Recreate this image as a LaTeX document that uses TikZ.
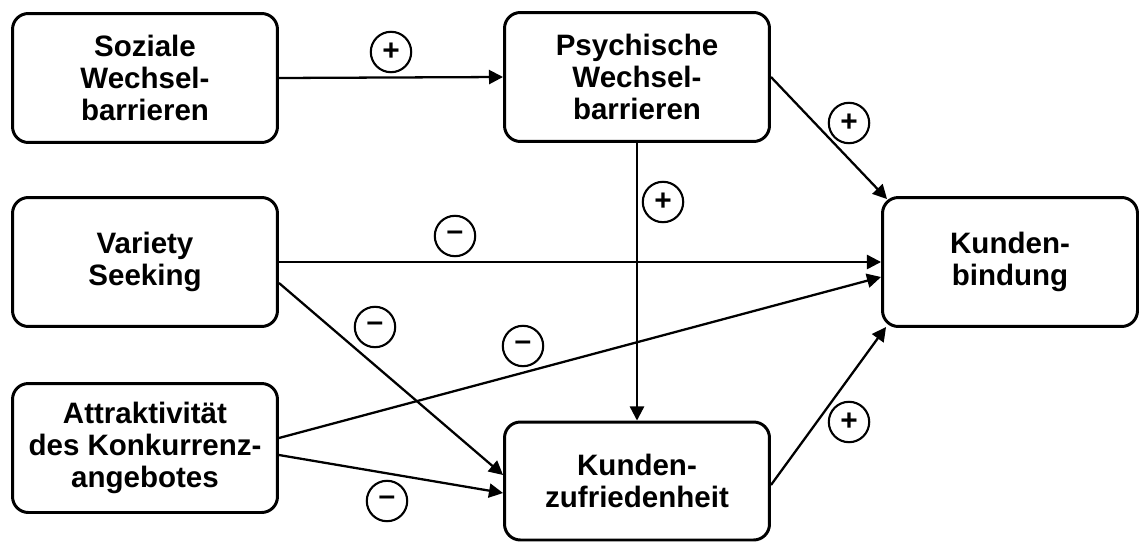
\documentclass[tikz,border=0pt]{standalone}
\usepackage{fontspec}
\setmainfont{Liberation Sans}
\usepackage{tikz}
\usetikzlibrary{arrows.meta,calc,positioning}

\begin{document}
\begin{tikzpicture}[x=0.02cm,y=-0.02cm,
    box/.style={draw,line width=1.7pt,rounded corners=9pt,align=center,
      minimum width=5.3cm,minimum height=2.58cm,
      font=\fontsize{16.8}{18.4}\selectfont\bfseries},
    sign/.style={draw,circle,line width=1.2pt,inner sep=0pt,minimum size=23pt,
      font=\fontsize{17}{17}\selectfont\bfseries},
    pfeil/.style={line width=1.3pt,-{Triangle[length=8pt,width=8pt]}}]
    \useasboundingbox (0,0) rectangle (1145,544);
    \node[box] (soz) at (145,78) {Soziale\\Wechsel-\\barrieren};
    \node[box] (psy) at (637,77) {Psychische\\Wechsel-\\barrieren};
    \node[box] (var) at (145,262) {Variety\\Seeking};
    \node[box] (att) at (145,448) {Attraktivität\\des Konkurrenz-\\angebotes};
    \node[box,minimum height=2.36cm] (zuf) at (637,481) {Kunden-\\zufriedenheit};
    \node[box,minimum width=5.1cm] (bind) at (1010,262) {Kunden-\\bindung};
    \draw[pfeil] (soz.east) -- (psy.west);
    \draw[pfeil] (psy.east) -- ([shift={(6,3)}]bind.north west);
    \draw[pfeil] (psy.south) -- (zuf.north);
    \draw[pfeil] (var.east) -- (bind.west);
    \draw[pfeil] ([shift={(0,21)}]var.east) -- ([shift={(0,-6)}]zuf.west);
    \draw[pfeil] ([shift={(0,-10)}]att.east) -- ([shift={(0,15)}]bind.west);
    \draw[pfeil] ([shift={(0,7)}]att.east) -- ([shift={(0,12)}]zuf.west);
    \draw[pfeil] ([shift={(0,4)}]zuf.east) -- ([shift={(5,-1)}]bind.south west);
    % Vorzeichen
    \node[sign] (s1) at (391,52) {+};
    \node[sign] (s2) at (849,123) {+};
    \node[sign] (s3) at (663,202) {+};
    \node[sign] (s4) at (455,236) {--};
    \node[sign] (s5) at (375,327) {--};
    \node[sign] (s6) at (523,346) {--};
    \node[sign] (s7) at (387,501) {--};
    \node[sign] (s8) at (849,422) {+};
  \end{tikzpicture}
\end{document}
